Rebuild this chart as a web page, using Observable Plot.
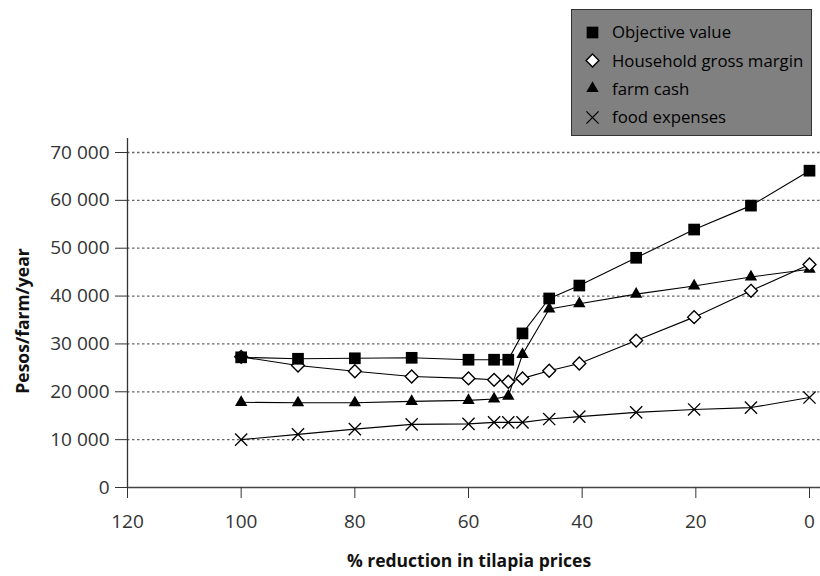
<!DOCTYPE html>
<html><head><meta charset="utf-8">
<script src="https://cdn.jsdelivr.net/npm/d3@7"></script>
<script src="https://cdn.jsdelivr.net/npm/@observablehq/plot@0.6"></script>
<style>
body{margin:0;background:#fff;font-family:"Open Sans",sans-serif;}
#wrap{position:relative;width:820px;height:576px;}
#legend{position:absolute;left:571px;top:9px;width:239px;height:125px;background:#808080;border:1.5px solid #333;z-index:2;}
.item{position:absolute;left:0;height:20px;display:flex;align-items:center;font-size:16.8px;color:#000;white-space:nowrap;}
.item svg{margin-left:13px;margin-right:13px;}
</style></head><body><div id="wrap"><div id="legend"></div></div>
<script>
const reduction = [100, 90, 80, 70, 60, 55.5, 53, 50.5, 45.8, 40.5, 30.5, 20.3, 10.3, 0];
const objectiveValue = [27200, 26900, 27000, 27100, 26700, 26700, 26700, 32200, 39500, 42200, 48000, 53900, 58900, 66200];
const grossMargin = [27300, 25500, 24300, 23200, 22800, 22500, 22100, 22800, 24400, 25900, 30700, 35600, 41100, 46600];
const farmCash = [17800, 17700, 17700, 18000, 18200, 18500, 19100, 27800, 37300, 38400, 40400, 42100, 44000, 45600];
const foodExpenses = [10000, 11100, 12200, 13200, 13300, 13600, 13600, 13600, 14300, 14800, 15700, 16300, 16700, 18800];
const seriesNames = ["Objective value", "Household gross margin", "farm cash", "food expenses"];
const xTicks = [120, 100, 80, 60, 40, 20, 0];
const yTicks = [0, 10000, 20000, 30000, 40000, 50000, 60000, 70000];
const xLabel = "% reduction in tilapia prices";
const yLabel = "Pesos/farm/year";

const seriesValues = [objectiveValue, grossMargin, farmCash, foodExpenses];
const styles = [
  {symbol: "square", r: 6.6, fill: "black", stroke: "none"},
  {symbol: "diamond2", r: 5.8, fill: "white", stroke: "black", strokeWidth: 1.4},
  {symbol: "triangle", r: 4.6, fill: "black", stroke: "none"},
  {symbol: "times", r: 5.6, fill: "none", stroke: "black", strokeWidth: 1.3}
];
const rows = seriesNames.flatMap((name, i) => reduction.map((x, j) => ({series: name, x, y: seriesValues[i][j]})));
const fmt = d => d3.format(",")(d).replace(/,/g, " ");
const drawOrder = [3, 2, 1, 0];

const marks = [
  Plot.ruleY(yTicks.filter(d => d > 0), {stroke: "#666", strokeWidth: 1.3, strokeDasharray: "2.5,2.5"}),
  Plot.ruleY([0], {stroke: "#444", strokeWidth: 1.5}),
  Plot.ruleX([120], {stroke: "#333", strokeWidth: 1.3}),
  Plot.axisX({ticks: xTicks, tickSize: 11, tickPadding: 16, fontSize: 19, color: "#333", label: null, tickFormat: d => String(d)}),
  Plot.axisY({ticks: yTicks, tickSize: 12, tickPadding: 6, fontSize: 19, color: "#333", label: null, tickFormat: fmt}),
  Plot.line(rows, {x: "x", y: "y", z: "series", stroke: "black", strokeWidth: 1.1}),
  ...drawOrder.map(i => Plot.dot(rows.filter(d => d.series === seriesNames[i]), {x: "x", y: "y", ...styles[i]})),
  Plot.text([xLabel], {frameAnchor: "bottom", dx: -5, dy: 79, fontSize: 17.5, fontWeight: "bold", fill: "#111"}),
  Plot.text([yLabel], {frameAnchor: "left", textAnchor: "middle", dx: -104, dy: 8, rotate: -90, fontSize: 17.5, fontWeight: "bold", fill: "#111"})
];

const chart = Plot.plot({
  width: 820, height: 576,
  marginLeft: 127, marginRight: 0, marginTop: 138, marginBottom: 89,
  style: {fontFamily: "Open Sans, sans-serif", background: "white"},
  x: {domain: [120, 0], range: [127, 809]},
  y: {domain: [0, 70000], range: [487, 152]},
  marks
});
document.getElementById("wrap").prepend(chart);

// legend
const legend = document.getElementById("legend");
const centers = [21.5, 50, 78, 106.5];
seriesNames.forEach((name, i) => {
  const item = document.createElement("div");
  item.className = "item";
  item.style.top = (centers[i] - 10) + "px";
  const s = styles[i];
  const sym = Plot.dot([0], {x: () => 0, y: () => 0, symbol: s.symbol, r: s.r, fill: s.fill, stroke: s.stroke, strokeWidth: s.strokeWidth || 1});
  const svg = Plot.plot({width: 14, height: 14, margin: 0, x: {domain: [-1, 1], range: [0, 14], axis: null}, y: {domain: [-1, 1], range: [14, 0], axis: null}, style: {background: "transparent", overflow: "visible"}, marks: [sym]});
  item.appendChild(svg);
  const t = document.createElement("span");
  t.textContent = name;
  item.appendChild(t);
  legend.appendChild(item);
});
</script>
</body></html>
